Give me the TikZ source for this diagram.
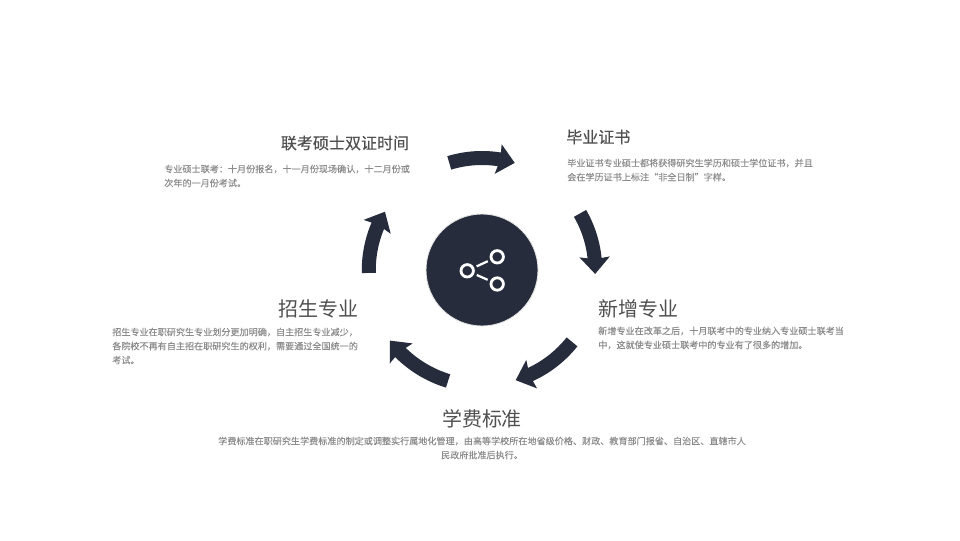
\documentclass[tikz,border=0pt]{standalone}
\usepackage{fontspec}
\setmainfont{Noto Sans CJK SC}
\newfontfamily\titlefont[FakeBold=0.3]{Noto Sans CJK SC}
\newfontfamily\bodyfont[FakeBold=0.1]{Noto Sans CJK SC}
\usetikzlibrary{arrows.meta,bending}
\definecolor{darkhub}{RGB}{38,44,60}
\definecolor{titlegray}{RGB}{80,80,80}
\definecolor{bodygray}{RGB}{140,140,140}

\begin{document}
\begin{tikzpicture}[
	headbig/.style={inner sep=0,text=titlegray,font=\fontsize{14.2}{16}\selectfont},
	headsmall/.style={inner sep=0,text=titlegray,font=\titlefont\fontsize{11.4}{14}\selectfont},
	bodytext/.style={inner sep=0,text=bodygray,font=\bodyfont\fontsize{6.47}{10}\selectfont,align=left},
	ringarrow/.style={line width=0.35cm,color=darkhub,
		-{Stealth[length=0.42cm,width=0.74cm,inset=0.05cm]}},
	iconring/.style={circle,draw=white,line width=2pt,inner sep=0,minimum size=0.31cm},
	iconlink/.style={draw=white,line width=1.6pt,shorten >=0.07cm,shorten <=0.07cm}]
\useasboundingbox (0,0) rectangle (24,13.5);
\fill[white] (0,0) rectangle (24,13.5);

\node (hub) at (12.05,6.75) [circle,fill=darkhub,draw=black!10,line width=0.6pt,inner sep=0,minimum size=2.8cm] {};
\node (iconleft) at (11.68,6.73) [iconring] {};
\node (icontop) at (12.43,7.08) [iconring] {};
\node (iconbottom) at (12.43,6.4) [iconring] {};
\draw[iconlink] (iconleft) -- (icontop);
\draw[iconlink] (iconleft) -- (iconbottom);

\foreach \a/\b/\r in {107/73/2.8,30/-2/2.83,-38.6/-73/2.88,-107/-142.5/2.9,181.5/149/2.83}
	\draw[ringarrow] (hub) ++(\a:\r) arc[start angle=\a,end angle=\b,radius=\r];

\node (kaoshi) at (8.625,9.925) [headsmall] {联考硕士双证时间};
\node (kaoshitext) at (4.1,9.1) [right,bodytext] {专业硕士联考：十月份报名，十一月份现场确认，十二月份或\\次年的一月份考试。};

\node (zhengshu) at (14.15,10.075) [right,headsmall] {毕业证书};
\node (zhengshutext) at (14.175,9.25) [right,bodytext] {毕业证书专业硕士都将获得研究生学历和硕士学位证书，并且\\会在学历证书上标注“非全日制”字样。};

\node (xinzeng) at (14.95,5.775) [right,headbig] {新增专业};
\node (xinzengtext) at (14.95,5.05) [right,bodytext] {新增专业在改革之后，十月联考中的专业纳入专业硕士联考当\\中，这就使专业硕士联考中的专业有了很多的增加。};

\node (zhaosheng) at (8.975,5.775) [left,headbig] {招生专业};
\node (zhaoshengtext) at (2.8,4.85) [right,bodytext] {招生专业在职研究生专业划分更加明确，自主招生专业减少，\\各院校不再有自主招在职研究生的权利，需要通过全国统一的\\考试。};

\node (xuefei) at (12.05,3.025) [headbig] {学费标准};
\node (xuefeitext) at (12.05,2.3) [bodytext,align=center] {学费标准在职研究生学费标准的制定或调整实行属地化管理，由高等学校所在地省级价格、财政、教育部门报省、自治区、直辖市人\\民政府批准后执行。};

\end{tikzpicture}
\end{document}
